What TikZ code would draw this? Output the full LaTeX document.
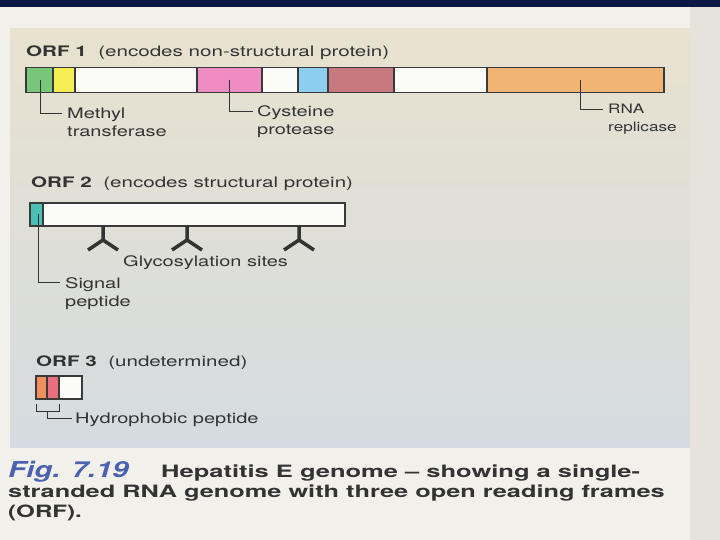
\documentclass[tikz,border=0pt]{standalone}
\usepackage{fontspec}
\setmainfont{TeX Gyre Heros}
\usepackage{graphicx}
\usetikzlibrary{positioning,calc}

\definecolor{Navy}{HTML}{0B1846}
\definecolor{PageBg}{HTML}{F2F0EA}
\definecolor{SideBg}{HTML}{E6E3DC}
\definecolor{PanelTop}{HTML}{E8E2CF}
\definecolor{PanelBot}{HTML}{D5DBE0}
\definecolor{Ink}{HTML}{333333}
\definecolor{BarLine}{HTML}{3A3A38}
\definecolor{FigBlue}{HTML}{4A62B0}
\definecolor{SegWhite}{HTML}{FBFBF8}
\definecolor{MethGreen}{HTML}{78C67A}
\definecolor{MethYellow}{HTML}{F4EE55}
\definecolor{CysPink}{HTML}{F08CC4}
\definecolor{SkyBlue}{HTML}{8CCDF0}
\definecolor{Mauve}{HTML}{C8787F}
\definecolor{RepOrange}{HTML}{F2B472}
\definecolor{SigTeal}{HTML}{4CBFB5}
\definecolor{HydOrange}{HTML}{F0905E}
\definecolor{HydPink}{HTML}{E8707E}

% stretched lettering of the scan
\newcommand{\wide}[2][1.38]{\scalebox{#1}[1]{#2}}

\begin{document}
\begin{tikzpicture}[x=1pt, y=-1pt,
  seg/.style={draw=BarLine, line width=1.2pt, minimum height=25pt, inner sep=0pt, outer sep=0pt, anchor=west},
  segb/.style={seg, minimum height=23pt},
  title/.style={font=\fontsize{14.5}{16}\selectfont, text=Ink, inner sep=0pt, anchor=base west},
  lbl/.style={font=\fontsize{14.5}{17}\selectfont, text=Ink, inner sep=0pt, anchor=base west},
  lead/.style={draw=Ink, line width=0.9pt},
  glyc/.style={draw=Ink, line width=3.5pt},
  capt/.style={font=\fontsize{17}{19}\selectfont\bfseries, text=Ink, inner sep=0pt, anchor=base west}]
  \useasboundingbox (0,0) rectangle (720,540);

  % page and panel
  \fill[PageBg] (0,0) rectangle (720,540);
  \fill[SideBg] (690,7) rectangle (720,540);
  \fill[Navy] (0,0) rectangle (720,7);
  \shade[top color=PanelTop, bottom color=PanelBot] (10,29) rectangle (690,447);

  % ORF 1
  \node[title] (t1) at (26,56.5) {\wide[1.42]{\textbf{ORF 1}\ \ (encodes non-structural protein)}};
  \node[seg, fill=MethGreen, minimum width=27pt] (s1) at (26,80) {};
  \node[seg, fill=MethYellow, minimum width=22pt, right=0pt of s1] (s2) {};
  \node[seg, fill=SegWhite, minimum width=122pt, right=0pt of s2] (s3) {};
  \node[seg, fill=CysPink, minimum width=65pt, right=0pt of s3] (s4) {};
  \node[seg, fill=SegWhite, minimum width=36pt, right=0pt of s4] (s5) {};
  \node[seg, fill=SkyBlue, minimum width=30pt, right=0pt of s5] (s6) {};
  \node[seg, fill=Mauve, minimum width=66pt, right=0pt of s6] (s7) {};
  \node[seg, fill=SegWhite, minimum width=93pt, right=0pt of s7] (s8) {};
  \node[seg, fill=RepOrange, minimum width=177pt, right=0pt of s8] (s9) {};

  \node[lbl] (meth) at (67,119) {\wide{Methyl}};
  \node[lbl] (methb) at (67,137) {\wide{transferase}};
  \node[lbl] (cys) at (257,117) {\wide{Cysteine}};
  \node[lbl] (cysb) at (257,135) {\wide{protease}};
  \node[lbl, font=\fontsize{13}{15}\selectfont] (rna) at (608,114) {\wide[1.32]{RNA}};
  \node[lbl, font=\fontsize{13}{15}\selectfont] (rnab) at (608,132) {\wide[1.32]{replicase}};

  \draw[lead] ([xshift=1pt]s1.center) |- ([shift={(-5pt,6pt)}]meth.base west);
  \draw[lead] (s4.center) |- ([shift={(-4pt,6pt)}]cys.base west);
  \draw[lead] ([xshift=5pt]s9.center) |- ([shift={(-5pt,5pt)}]rna.base west);

  % ORF 2
  \node[title] (t2) at (31,188) {\wide[1.42]{\textbf{ORF 2}\ \ (encodes structural protein)}};
  \node[segb, fill=SigTeal, minimum width=13pt] (w1) at (30,214.5) {};
  \node[segb, fill=SegWhite, minimum width=302pt, right=0pt of w1] (w2) {};

  \foreach \gx in {103,187,299}
    \draw[glyc] (\gx,226) -- ++(0,14) ++(-15,10) -- ++(15,-10) -- ++(15,10);
  \node[lbl] (gly) at (123,266) {\wide{Glycosylation sites}};

  \node[lbl] (sig) at (65,288) {\wide{Signal}};
  \node[lbl] (sigb) at (65,306) {\wide{peptide}};
  \draw[lead] ([xshift=1.5pt]w1.center) |- ([shift={(-5pt,6pt)}]sig.base west);

  % ORF 3
  \node[title] (t3) at (36,366) {\wide[1.42]{\textbf{ORF 3}\ \ (undetermined)}};
  \node[segb, fill=HydOrange, minimum width=11pt] (o1) at (36,387.5) {};
  \node[segb, fill=HydPink, minimum width=12pt, right=0pt of o1] (o2) {};
  \node[segb, fill=SegWhite, minimum width=23pt, right=0pt of o2] (o3) {};

  \node[lbl] (hyd) at (75,423) {\wide{Hydrophobic peptide}};
  \draw[lead] ([yshift=-5pt]o1.south west) -- ++(0,7) coordinate (brk) -| ([yshift=-5pt]o2.south east);
  \draw[lead] ($(brk)!0.5!([yshift=-12pt]o2.south east)$) |- ([shift={(-3pt,5pt)}]hyd.base west);

  % caption
  \node[capt, font=\fontsize{22}{24}\selectfont\bfseries\itshape, text=FigBlue] (fig) at (8,477) {\wide[1.34]{Fig. 7.19}};
  \node[capt] (cap1) at (161,477) {\wide[1.5]{Hepatitis E genome -- showing a single-}};
  \node[capt] (cap2) at (8,497) {\wide[1.49]{stranded RNA genome with three open reading frames}};
  \node[capt] (cap3) at (8,517) {\wide[1.42]{(ORF).}};
\end{tikzpicture}
\end{document}
